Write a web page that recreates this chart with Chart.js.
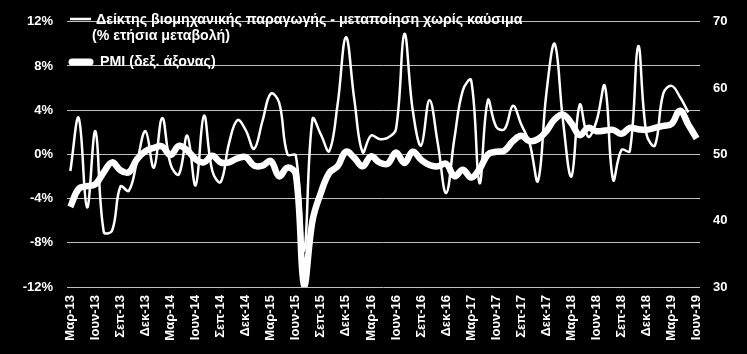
<!DOCTYPE html>
<html>
<head>
<meta charset="utf-8">
<script src="https://cdn.jsdelivr.net/npm/chart.js@4"></script>
<style>
  html, body { margin: 0; padding: 0; background: #000; }
  canvas { display: block; }
</style>
</head>
<body>
<canvas id="chart" width="747" height="354"></canvas>
<script>
/////////////////////////////// DATA ///////////////////////////////

// monthly categories, Mar-13 .. Jun-19
const categories = [
  "Μαρ-13", "Απρ-13", "Μαϊ-13", "Ιουν-13", "Ιουλ-13", "Αυγ-13", "Σεπ-13", "Οκτ-13", "Νοε-13", "Δεκ-13",
  "Ιαν-14", "Φεβ-14", "Μαρ-14", "Απρ-14", "Μαϊ-14", "Ιουν-14", "Ιουλ-14", "Αυγ-14", "Σεπ-14", "Οκτ-14", "Νοε-14", "Δεκ-14",
  "Ιαν-15", "Φεβ-15", "Μαρ-15", "Απρ-15", "Μαϊ-15", "Ιουν-15", "Ιουλ-15", "Αυγ-15", "Σεπ-15", "Οκτ-15", "Νοε-15", "Δεκ-15",
  "Ιαν-16", "Φεβ-16", "Μαρ-16", "Απρ-16", "Μαϊ-16", "Ιουν-16", "Ιουλ-16", "Αυγ-16", "Σεπ-16", "Οκτ-16", "Νοε-16", "Δεκ-16",
  "Ιαν-17", "Φεβ-17", "Μαρ-17", "Απρ-17", "Μαϊ-17", "Ιουν-17", "Ιουλ-17", "Αυγ-17", "Σεπ-17", "Οκτ-17", "Νοε-17", "Δεκ-17",
  "Ιαν-18", "Φεβ-18", "Μαρ-18", "Απρ-18", "Μαϊ-18", "Ιουν-18", "Ιουλ-18", "Αυγ-18", "Σεπ-18", "Οκτ-18", "Νοε-18", "Δεκ-18",
  "Ιαν-19", "Φεβ-19", "Μαρ-19", "Απρ-19", "Μαϊ-19", "Ιουν-19"
];

// industrial production, manufacturing ex fuel (% y/y), ends May-19
const ipValues = [
  -1.5, 3.3, -4.8, 2.1, -7.0, -6.9, -2.9, -3.3, -0.6, 2.1,
  -1.2, 3.3, -0.9, -1.8, 1.7, -2.8, 3.5, -1.5, -2.5, 1.0, 3.1, 2.2,
  0.5, 3.0, 5.5, 4.7, 0.0, -0.1, -8.7, 3.2, 1.8, 0.3, 4.5, 10.6,
  5.0, 0.2, 1.7, 1.4, 1.5, 2.3, 10.9, 4.0, 0.8, 4.9, 1.0, -3.5,
  1.5, 5.8, 6.7, -2.6, 4.9, 2.5, 2.3, 4.4, 2.7, 1.0, -2.4, 5.5,
  10.0, 3.0, -2.0, 4.5, 1.6, 3.0, 6.2, -2.3, 0.4, 0.3, 9.8, 1.8,
  0.8, 5.5, 6.2, 5.2, 3.8
];

// manufacturing PMI (right axis)
const pmiValues = [
  42.1, 44.8, 45.2, 45.5, 47.3, 48.8, 47.6, 47.3, 49.3, 50.5,
  51.0, 51.2, 49.9, 51.3, 50.6, 49.3, 48.8, 49.8, 48.8, 48.8, 49.4, 49.6,
  48.3, 48.3, 49.0, 46.7, 48.0, 47.0, 30.2, 40.0, 44.2, 47.2, 48.2, 50.4,
  49.5, 48.2, 49.7, 48.8, 48.6, 50.3, 48.7, 50.4, 49.2, 48.4, 48.2, 48.6,
  46.7, 47.7, 46.5, 47.8, 50.0, 50.4, 50.6, 52.0, 52.8, 52.0, 52.3, 53.5,
  55.3, 56.0, 54.7, 52.9, 54.0, 53.5, 53.6, 53.7, 53.1, 54.0, 53.8, 53.7,
  54.0, 54.3, 54.6, 56.6, 54.5, 52.4
];

// x tick every 3 months
const xTickIndex = [0, 3, 6, 9, 12, 15, 18, 21, 24, 27, 30, 33, 36, 39, 42, 45, 48, 51, 54, 57, 60, 63, 66, 69, 72, 75];
const leftTicks = [-12, -8, -4, 0, 4, 8, 12];
const rightTicks = [30, 40, 50, 60, 70];

const ipLabel = ["Δείκτης βιομηχανικής παραγωγής - μεταποίηση χωρίς καύσιμα", "(% ετήσια μεταβολή)"];
const pmiLabel = "PMI (δεξ. άξονας)";

/////////////////////////////// STYLE ///////////////////////////////

const c_line = "#FFFFFF";
const c_grid = "#BFBFBF";
const fontFamily = 'Arial, "Liberation Sans", sans-serif';
const tickFont = { family: fontFamily, size: 13, weight: "bold" };

// legend drawn inside the plot, top left
const legendPlugin = {
  id: "insideLegend",
  afterDraw(chart) {
    const c = chart.ctx;
    c.save();
    c.strokeStyle = c_line;
    c.fillStyle = c_line;
    c.lineCap = "butt";
    c.lineWidth = 2.5;
    c.beginPath();
    c.moveTo(70, 19);
    c.lineTo(91, 19);
    c.stroke();
    c.lineCap = "round";
    c.lineWidth = 7;
    c.beginPath();
    c.moveTo(72, 62);
    c.lineTo(90, 62);
    c.stroke();
    c.font = "bold 14.2px " + fontFamily;
    c.textBaseline = "middle";
    c.fillText(ipLabel[0], 96, 20);
    c.fillText(ipLabel[1], 92, 36);
    c.fillText(pmiLabel, 100, 62);
    c.restore();
  }
};

/////////////////////////////// CHART ///////////////////////////////

const ctx = document.getElementById("chart").getContext("2d");
const chart = new Chart(ctx, {
  type: "line",
  data: {
    datasets: [
      {
        label: ipLabel.join(" "),
        data: ipValues.map((v, i) => ({ x: i, y: v })),
        yAxisID: "y",
        borderColor: c_line,
        borderWidth: 2.5,
        pointRadius: 0,
        tension: 0.4,
        fill: false
      },
      {
        label: pmiLabel,
        data: pmiValues.map((v, i) => ({ x: i, y: v })),
        yAxisID: "y1",
        borderColor: c_line,
        borderWidth: 6.5,
        pointRadius: 0,
        tension: 0.4,
        fill: false
      }
    ]
  },
  options: {
    responsive: false,
    animation: false,
    layout: { padding: { top: 17, left: 0, right: 0, bottom: 0 } },
    plugins: {
      legend: { display: false },
      tooltip: { enabled: false }
    },
    scales: {
      x: {
        type: "linear",
        min: -0.4,
        max: 75.4,
        afterBuildTicks: (s) => { s.ticks = xTickIndex.map(v => ({ value: v })); },
        afterFit: (s) => { s.height = 67; },
        grid: { display: false, drawTicks: false },
        border: { display: false },
        ticks: {
          autoSkip: false,
          maxRotation: 90,
          minRotation: 90,
          padding: 8,
          color: "#FFFFFF",
          font: tickFont,
          callback: (v) => categories[v]
        }
      },
      y: {
        position: "left",
        min: -12,
        max: 12,
        afterBuildTicks: (s) => { s.ticks = leftTicks.map(v => ({ value: v })); },
        afterFit: (s) => { s.width = 67; },
        grid: { color: c_grid, lineWidth: 1, drawTicks: false },
        border: { display: false },
        ticks: {
          padding: 14,
          color: "#FFFFFF",
          font: tickFont,
          callback: (v) => v + "%"
        }
      },
      y1: {
        position: "right",
        min: 30,
        max: 70,
        afterBuildTicks: (s) => { s.ticks = rightTicks.map(v => ({ value: v })); },
        afterFit: (s) => { s.width = 47; },
        grid: { display: false, drawTicks: false },
        border: { display: false },
        ticks: {
          padding: 13,
          color: "#FFFFFF",
          font: tickFont
        }
      }
    }
  },
  plugins: [legendPlugin]
});
</script>
</body>
</html>
